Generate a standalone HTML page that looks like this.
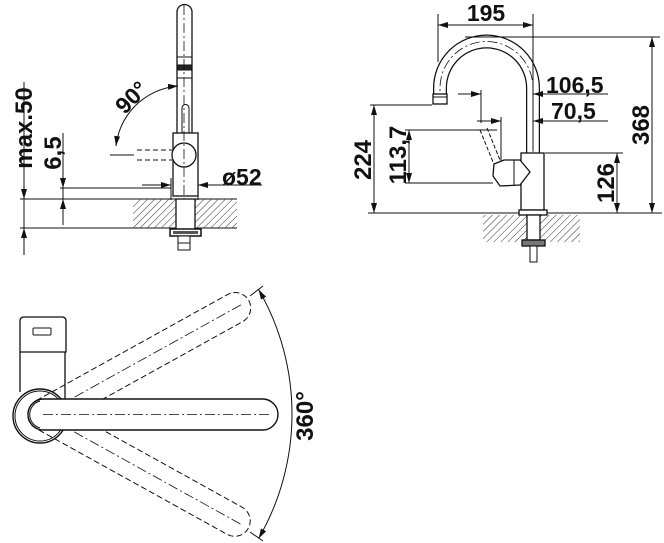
<!DOCTYPE html>
<html><head><meta charset="utf-8"><style>
html,body{margin:0;padding:0;background:#fff;}
svg{display:block;}
text{font-family:"Liberation Sans",sans-serif;font-weight:bold;fill:#111;}
</style></head><body>
<svg width="664" height="543" viewBox="0 0 664 543" xmlns="http://www.w3.org/2000/svg">
<defs>
<marker id="a" viewBox="0 0 10 6" refX="10" refY="3" markerWidth="10" markerHeight="6" markerUnits="userSpaceOnUse" orient="auto"><path d="M0 0L10 3L0 6z" fill="#111"/></marker>
<pattern id="h" width="5" height="5" patternUnits="userSpaceOnUse" patternTransform="rotate(45)"><line x1="0" y1="0" x2="0" y2="5" stroke="#333" stroke-width="1"/></pattern>
</defs>
<g fill="none" stroke="#111" stroke-width="1">
<!-- ===== LEFT TOP ===== -->
<line x1="20" y1="199" x2="237" y2="199"/>
<line x1="20" y1="228" x2="237" y2="228"/>
<line x1="60" y1="188" x2="171" y2="188"/>
<rect x="133" y="199" width="43" height="29" fill="url(#h)" stroke="none"/>
<rect x="195" y="199" width="42" height="29" fill="url(#h)" stroke="none"/>
<line x1="24" y1="82" x2="24" y2="255"/>
<path d="M24 180L24 199" marker-end="url(#a)"/>
<path d="M24 248L24 228" marker-end="url(#a)"/>
<line x1="63" y1="133" x2="63" y2="225"/>
<path d="M63 172L63 188" marker-end="url(#a)"/>
<path d="M63 215L63 199" marker-end="url(#a)"/>
<path d="M177 133L177 12A7.5 7.5 0 0 1 192 12L192 133" stroke-width="1.3"/>
<line x1="177" y1="57" x2="192" y2="57"/>
<rect x="177" y="65" width="15" height="5" fill="#222"/>
<line x1="177" y1="78" x2="192" y2="78"/>
<path d="M182 135L182 108A3.5 3.5 0 0 1 189 108L189 135"/>
<rect x="173" y="133" width="25" height="63" fill="#fff" stroke-width="1.3"/>
<circle cx="184" cy="155" r="12" fill="#fff" stroke-width="1.3"/>
<path d="M137 150L172 150M137 160L172 160" stroke-dasharray="5 3"/>
<line x1="110" y1="155" x2="134" y2="155"/>
<line x1="184" y1="5" x2="184" y2="250" stroke-dasharray="10 3 2 3" stroke-width="0.8"/>
<path d="M135 106A69 69 0 0 1 178 86" marker-end="url(#a)"/>
<path d="M135 106A69 69 0 0 0 116 146" marker-end="url(#a)"/>
<line x1="171" y1="178" x2="171" y2="200"/>
<line x1="198" y1="178" x2="198" y2="200"/>
<path d="M142 185L171 185" marker-end="url(#a)"/>
<path d="M262 185L198 185" marker-end="url(#a)"/>
<rect x="176" y="199" width="19" height="31" fill="#fff" stroke-width="1.3"/>
<rect x="170" y="229" width="31" height="7" fill="#fff" stroke-width="1.5"/>
<rect x="173" y="231" width="25" height="3" fill="#555" stroke="none"/>
<rect x="178" y="236" width="12" height="14" fill="#fff"/>
<line x1="178" y1="243" x2="190" y2="243"/>
<!-- ===== RIGHT TOP ===== -->
<line x1="368" y1="213" x2="662" y2="213"/>
<rect x="483" y="215" width="97" height="27" fill="url(#h)" stroke="none"/>
<path d="M440 104L440 88A46.5 46.5 0 0 1 533 88L533 154" stroke-width="14"/>
<path d="M440 104L440 88A46.5 46.5 0 0 1 533 88L533 154" stroke="#fff" stroke-width="11.5"/>
<path d="M440 104L440 88A46.5 46.5 0 0 1 533 88L533 212" stroke-dasharray="10 3 2 3" stroke-width="0.8"/>
<rect x="433" y="94" width="14" height="10" fill="#fff" stroke-width="1.3"/>
<line x1="433" y1="97" x2="447" y2="97"/>
<line x1="438" y1="14" x2="438" y2="62"/>
<line x1="533" y1="14" x2="533" y2="150"/>
<path d="M486 25L438 25" marker-end="url(#a)"/>
<path d="M486 25L533 25" marker-end="url(#a)"/>
<line x1="465" y1="37" x2="660" y2="37"/>
<line x1="652" y1="37" x2="652" y2="213"/>
<path d="M652 60L652 37" marker-end="url(#a)"/>
<path d="M652 190L652 213" marker-end="url(#a)"/>
<line x1="370" y1="105" x2="432" y2="105"/>
<line x1="374" y1="105" x2="374" y2="213"/>
<path d="M374 125L374 105" marker-end="url(#a)"/>
<path d="M374 193L374 213" marker-end="url(#a)"/>
<line x1="405" y1="130" x2="497" y2="130"/>
<line x1="405" y1="183" x2="493" y2="183"/>
<line x1="409" y1="130" x2="409" y2="183"/>
<path d="M409 150L409 130" marker-end="url(#a)"/>
<path d="M409 165L409 183" marker-end="url(#a)"/>
<line x1="481" y1="90" x2="481" y2="123"/>
<path d="M458 94L481 94" marker-end="url(#a)"/>
<path d="M608 94L533 94" marker-end="url(#a)"/>
<line x1="501" y1="117" x2="501" y2="176"/>
<path d="M477 121L501 121" marker-end="url(#a)"/>
<path d="M608 121L533 121" marker-end="url(#a)"/>
<line x1="545" y1="153" x2="623" y2="153"/>
<line x1="617" y1="153" x2="617" y2="213"/>
<path d="M617 175L617 153" marker-end="url(#a)"/>
<path d="M617 193L617 213" marker-end="url(#a)"/>
<path d="M480 130L493 162M487 128L500 160" stroke-dasharray="4 2"/>
<rect x="521" y="153" width="23" height="57" fill="#fff" stroke-width="1.3"/>
<path d="M494 164L504 160L520 160L530 172L520 185L500 186L493 176Z" fill="#fff" stroke-width="1.3"/>
<path d="M514 160L514 185"/>
<rect x="519" y="210" width="28" height="5" fill="#fff" stroke-width="1.3"/>
<rect x="527" y="215" width="13" height="25" fill="#fff" stroke-width="1.3"/>
<rect x="522" y="240" width="23" height="6" fill="#777" stroke-width="1.3"/>
<rect x="530" y="246" width="7" height="16" fill="#fff"/>
<!-- ===== BOTTOM ===== -->
<path d="M20 352L20 321Q20 317 24 317L62 317Q66 317 66 321L66 352Z" fill="#fff" stroke-width="1.3"/>
<rect x="33" y="328" width="18" height="7" rx="1"/>
<path d="M20 352L20 392M65 352L65 400" stroke-width="1.3"/>
<circle cx="40" cy="416" r="27" fill="#fff" stroke-width="1.4"/>
<circle cx="40" cy="416" r="25"/>
<g transform="rotate(-29 43 414)">
<rect x="28" y="399" width="250" height="31" rx="15.5" stroke-dasharray="6 3"/>
<line x1="43" y1="414.5" x2="270" y2="414.5" stroke-dasharray="10 3 2 3" stroke-width="0.8"/>
</g>
<g transform="rotate(29 43 414)">
<rect x="28" y="399" width="250" height="31" rx="15.5" stroke-dasharray="6 3"/>
<line x1="43" y1="414.5" x2="270" y2="414.5" stroke-dasharray="10 3 2 3" stroke-width="0.8"/>
</g>
<rect x="28" y="399" width="250" height="31" rx="15.5" fill="#fff" stroke-width="1.4"/>
<path d="M40 401A14 14 0 0 0 40 428" />
<line x1="43" y1="414.5" x2="272" y2="414.5" stroke-dasharray="10 3 2 3" stroke-width="0.8"/>
<path d="M292 414A249 249 0 0 0 258.6 289.5" marker-end="url(#a)"/>
<path d="M292 414A249 249 0 0 1 258.6 538.5" marker-end="url(#a)"/>
<line x1="250" y1="296" x2="263" y2="286"/>
<line x1="250" y1="532" x2="263" y2="541"/>
</g>
<text x="0" y="0" font-size="24" text-anchor="middle" transform="translate(32 128) rotate(-90)">max.50</text>
<text x="0" y="0" font-size="24" text-anchor="middle" transform="translate(61 153) rotate(-90)">6,5</text>
<text x="0" y="0" font-size="23" text-anchor="middle" transform="translate(137 103) rotate(-45)">90°</text>
<text x="222" y="185" font-size="23">ø52</text>
<text x="486" y="21" font-size="23" text-anchor="middle">195</text>
<text x="0" y="0" font-size="24" text-anchor="middle" transform="translate(649 125) rotate(-90)">368</text>
<text x="0" y="0" font-size="24" text-anchor="middle" transform="translate(371 160) rotate(-90)">224</text>
<text x="0" y="0" font-size="24" text-anchor="middle" transform="translate(406 155) rotate(-90)">113,7</text>
<text x="546" y="93" font-size="23">106,5</text>
<text x="551" y="119" font-size="23">70,5</text>
<text x="0" y="0" font-size="24" text-anchor="middle" transform="translate(614 183) rotate(-90)">126</text>
<text x="0" y="0" font-size="24" text-anchor="middle" transform="translate(313 416) rotate(-90)">360°</text>
</svg>
</body></html>
